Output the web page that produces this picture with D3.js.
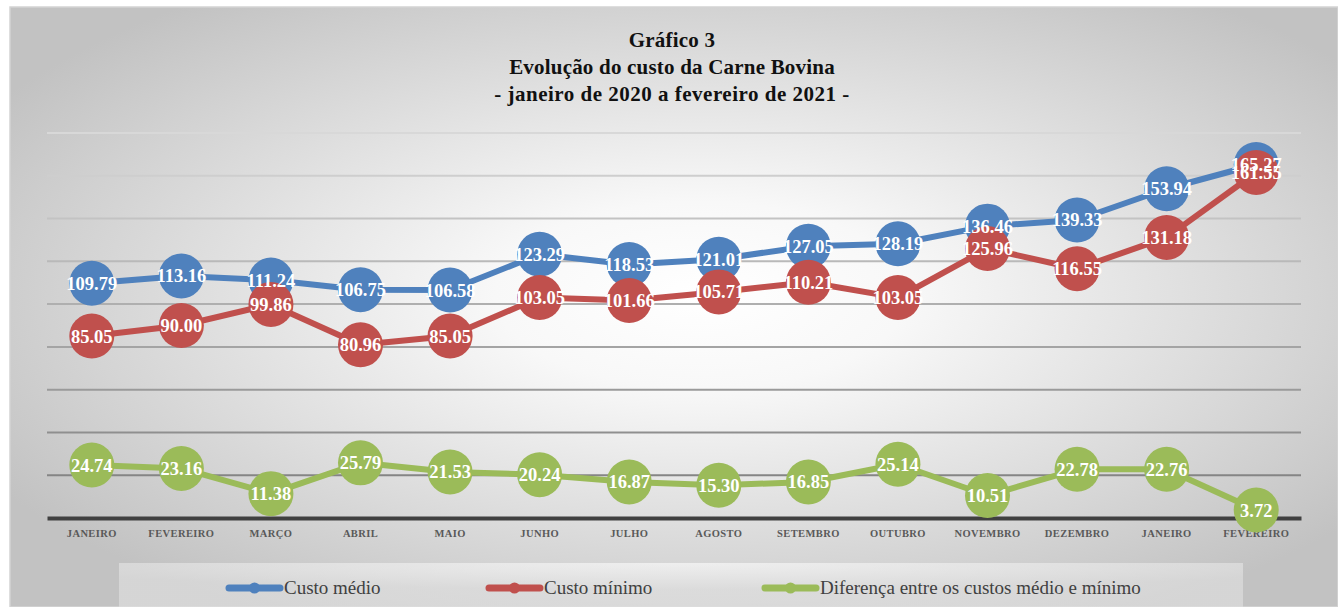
<!DOCTYPE html>
<html lang="pt">
<head>
    <meta charset="UTF-8">
    <script src="https://cdn.jsdelivr.net/npm/d3@7"></script>
    <title>Gráfico 3</title>
    <style>
        body { margin: 0; background: #fff; }
        svg { display: block; }
    </style>
</head>
<body>
<script>
let width = 1338
let height = 607

// dados
let meses = ["JANEIRO", "FEVEREIRO", "MARÇO", "ABRIL", "MAIO", "JUNHO", "JULHO",
    "AGOSTO", "SETEMBRO", "OUTUBRO", "NOVEMBRO", "DEZEMBRO", "JANEIRO", "FEVEREIRO"]
let custoMedio = [109.79, 113.16, 111.24, 106.75, 106.58, 123.29, 118.53, 121.01, 127.05, 128.19, 136.46, 139.33, 153.94, 165.27]
let custoMinimo = [85.05, 90.00, 99.86, 80.96, 85.05, 103.05, 101.66, 105.71, 110.21, 103.05, 125.96, 116.55, 131.18, 161.55]
let diferenca = [24.74, 23.16, 11.38, 25.79, 21.53, 20.24, 16.87, 15.30, 16.85, 25.14, 10.51, 22.78, 22.76, 3.72]
let nomes = ["Custo médio", "Custo mínimo", "Diferença entre os custos médio e mínimo"]
let yTicks = [20, 40, 60, 80, 100, 120, 140, 160, 180]
let titulo = ["Gráfico 3", "Evolução do custo da Carne Bovina", "- janeiro de 2020 a fevereiro de 2021 -"]

let cores = ["#4f81bd", "#c0504d", "#9bbb59"]
let series = [custoMedio, custoMinimo, diferenca].map((v, i) => ({nome: nomes[i], cor: cores[i], valores: v}))

let svg = d3.select("body").append("svg")
    .attr("width", width)
    .attr("height", height)

let defs = svg.append("defs")
let grad = defs.append("radialGradient")
    .attr("id", "fundo")
    .attr("cx", "52%").attr("cy", "48%").attr("r", "62%")
grad.append("stop").attr("offset", "0%").attr("stop-color", "#ffffff")
grad.append("stop").attr("offset", "25%").attr("stop-color", "#f8f8f8")
grad.append("stop").attr("offset", "100%").attr("stop-color", "#c2c2c2")

let gradLeg = defs.append("radialGradient")
    .attr("id", "legenda")
    .attr("cx", "50%").attr("cy", "0%").attr("r", "60%")
gradLeg.append("stop").attr("offset", "0%").attr("stop-color", "#ffffff")
gradLeg.append("stop").attr("offset", "100%").attr("stop-color", "#e2e2e2")

svg.append("rect")
    .attr("x", 10).attr("y", 7)
    .attr("width", width - 10).attr("height", height - 7)
    .attr("fill", "url(#fundo)")
    .attr("stroke", "#d4d4d4")
    .attr("stroke-width", 1.5)

let x = d3.scaleBand()
    .domain(d3.range(meses.length))
    .range([47, 1301])

let y = d3.scaleLinear()
    .domain([0, 180])
    .range([518, 133])

let corGrade = d3.scaleLinear()
    .domain([20, 180])
    .range(["#858585", "#d8d8d8"])

// linhas de grade
svg.append("g")
    .selectAll("line")
    .data(yTicks)
    .join("line")
    .attr("x1", 47).attr("x2", 1301)
    .attr("y1", d => y(d)).attr("y2", d => y(d))
    .attr("stroke", d => corGrade(d))
    .attr("stroke-width", 2)

// eixo x
let xAxis = svg.append("g")
    .attr("transform", `translate(0,${y(0)})`)
    .call(d3.axisBottom(x).tickSize(0).tickPadding(12).tickFormat(i => meses[i]))
xAxis.select(".domain")
    .attr("stroke", "#404040")
    .attr("stroke-width", 4)
xAxis.selectAll("text")
    .attr("font-family", "Liberation Serif")
    .attr("font-weight", "bold")
    .attr("font-size", 10.5)
    .attr("letter-spacing", 0.4)
    .attr("fill", "#595959")

let cx = i => x(i) + x.bandwidth() / 2
let linha = d3.line()
    .x((d, i) => cx(i))
    .y(d => y(d))

let grupos = svg.append("g")
    .selectAll("g")
    .data(series)
    .join("g")

grupos.append("path")
    .attr("d", s => linha(s.valores))
    .attr("fill", "none")
    .attr("stroke", s => s.cor)
    .attr("stroke-width", 6)
    .attr("stroke-linejoin", "round")

grupos.selectAll("circle")
    .data(s => s.valores.map(v => ({v, cor: s.cor})))
    .join("circle")
    .attr("cx", (d, i) => cx(i))
    .attr("cy", d => y(d.v))
    .attr("r", 22.5)
    .attr("fill", d => d.cor)

// rótulos por cima de tudo
svg.append("g")
    .selectAll("g")
    .data(series)
    .join("g")
    .selectAll("text")
    .data(s => s.valores)
    .join("text")
    .attr("x", (d, i) => cx(i))
    .attr("y", d => y(d) + 6.5)
    .attr("text-anchor", "middle")
    .attr("font-family", "Liberation Serif")
    .attr("font-weight", "bold")
    .attr("font-size", 18.5)
    .attr("fill", "#fff")
    .text(d => d.toFixed(2))

// título
svg.append("g")
    .selectAll("text")
    .data(titulo)
    .join("text")
    .attr("x", 672)
    .attr("y", (d, i) => 47 + i * 27)
    .attr("text-anchor", "middle")
    .attr("font-family", "Liberation Serif")
    .attr("font-weight", "bold")
    .attr("font-size", 21)
    .attr("letter-spacing", (d, i) => i == 2 ? 0.5 : 0.2)
    .attr("fill", "#111")
    .text(d => d)

// legenda
svg.append("rect")
    .attr("x", 119).attr("y", 563)
    .attr("width", 1124).attr("height", 44)
    .attr("fill", "url(#legenda)")
    .attr("fill-opacity", 0.6)

let legX = [226, 486, 762]
let leg = svg.append("g")
    .selectAll("g")
    .data(series)
    .join("g")
    .attr("transform", (d, i) => `translate(${legX[i]},588)`)
leg.append("line")
    .attr("x1", 3).attr("x2", 54)
    .attr("stroke", d => d.cor)
    .attr("stroke-width", 7)
    .attr("stroke-linecap", "round")
leg.append("circle")
    .attr("cx", 28.5).attr("r", 5.5)
    .attr("fill", d => d.cor)
leg.append("text")
    .attr("x", 58)
    .attr("y", 6)
    .attr("font-family", "Liberation Serif")
    .attr("font-size", 19)
    .attr("fill", "#404040")
    .text(d => d.nome)
</script>
</body>
</html>
